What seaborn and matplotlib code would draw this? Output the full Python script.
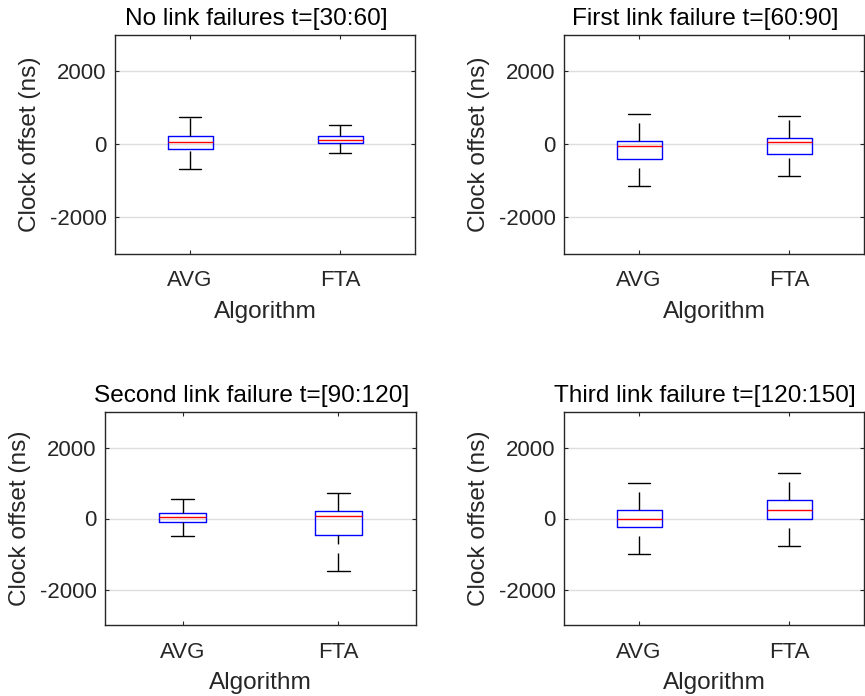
import numpy as np
import pandas as pd
import matplotlib
matplotlib.use("Agg")
import matplotlib.pyplot as plt
import seaborn as sns

# five-number summaries: [lower whisker, q1, median, q3, upper whisker]
titles = ["No link failures t=[30:60]", "First link failure t=[60:90]",
          "Second link failure t=[90:120]", "Third link failure t=[120:150]"]
algorithms = ["AVG", "FTA"]
avg_stats = [[-682, -136, 64, 218, 745],
             [-1155, -418, -45, 82, 818],
             [-491, -104, 38, 160, 547],
             [-991, -245, 0, 245, 991]]
fta_stats = [[-245, 36, 118, 227, 518],
             [-873, -264, 64, 155, 764],
             [-1481, -462, 57, 208, 726],
             [-773, 0, 245, 509, 1292]]
yticks = [-2000, 0, 2000]

sns.set_theme(style="white")
plt.rcParams["font.family"] = ["Liberation Sans", "DejaVu Sans"]
plt.rcParams["axes.unicode_minus"] = False

fig = plt.figure(figsize=(8.65, 6.96), dpi=100)
W, H = 865, 696
# axes boxes in pixels: left, top, right, bottom
boxes = [(115, 34.5, 415, 253.5), (564, 34.5, 864, 253.5),
         (105, 412, 416, 625), (564, 412, 864, 625)]

dark = "#262626"
for i, (l, t, r, b) in enumerate(boxes):
    ax = fig.add_axes([l / W, 1 - b / H, (r - l) / W, (b - t) / H])
    rows = []
    for alg, st in zip(algorithms, [avg_stats[i], fta_stats[i]]):
        for v in st:
            rows.append({"Algorithm": alg, "Clock offset (ns)": v})
    df = pd.DataFrame(rows)

    sns.boxplot(data=df, x="Algorithm", y="Clock offset (ns)", ax=ax,
                whis=(0, 100), width=0.3, fill=False, color="blue",
                linewidth=1.0,
                boxprops={"color": "#0000ff"},
                medianprops={"color": "#ff0000"},
                whiskerprops={"color": "black", "linestyle": (0, (13, 6.5))},
                capprops={"color": "black"})

    # matlab draws the dashed whiskers from the low end upward
    for ln in ax.lines:
        x = np.asarray(ln.get_xdata(), dtype=float)
        y = np.asarray(ln.get_ydata(), dtype=float)
        if len(y) == 2 and x[0] == x[1] and y[0] > y[1]:
            ln.set_data(x[::-1], y[::-1])

    ax.set_xlim(-0.5, 1.5)
    ax.set_ylim(-3000, 3000)
    ax.set_yticks(yticks)
    ax.set_yticklabels([str(v) for v in yticks])
    ax.yaxis.grid(True, color="#dedede", linewidth=1.0)
    ax.set_axisbelow(True)
    for sp in ax.spines.values():
        sp.set_visible(True)
        sp.set_color(dark)
        sp.set_linewidth(1.0)
    ax.tick_params(axis="both", direction="in", length=3, width=0.8,
                   top=True, right=True, bottom=True, left=True,
                   colors=dark, labelsize=16)
    ax.tick_params(axis="x", pad=12)
    ax.tick_params(axis="y", pad=6)
    ax.set_xlabel("Algorithm", fontsize=17.6, color=dark, labelpad=7)
    ax.set_ylabel("Clock offset (ns)", fontsize=17.6, color=dark, labelpad=6)
    ax.set_title(titles[i], fontsize=17.6, color="black", pad=7, x=0.47)

fig.savefig("out.png", dpi=100)
